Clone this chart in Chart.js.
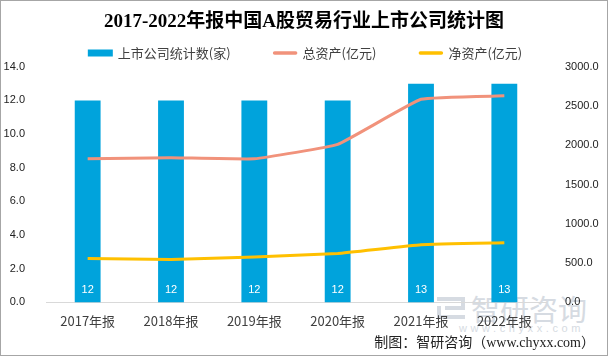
<!DOCTYPE html>
<html><head><meta charset="utf-8">
<script src="https://cdn.jsdelivr.net/npm/chart.js@4.4.1/dist/chart.umd.min.js"></script>
<style>
html,body{margin:0;padding:0;background:#fff;}
#wrap{position:relative;width:608px;height:356px;overflow:hidden;background:#fff;}
#frame{position:absolute;left:0;top:0;width:608px;height:356px;box-sizing:border-box;border:1px solid #a6a6a6;pointer-events:none;z-index:5;}
#c{position:absolute;left:0;top:0;z-index:2;}
.wm{position:absolute;z-index:1;color:#d6dbe2;font-family:'Noto Sans CJK SC';line-height:1;white-space:nowrap;}
#wm1{left:471px;top:294px;font-size:29px;}
#wm2{left:459px;top:323px;font-size:11px;letter-spacing:3.6px;font-family:'Liberation Sans';}
#logo{position:absolute;z-index:1;left:437px;top:297px;width:28px;height:22px;}
#logo div{position:absolute;background:#d6dbe2;}
#src{position:absolute;z-index:3;right:13px;top:334px;font-family:'Liberation Serif','Noto Sans CJK SC';font-size:14px;color:#222;line-height:18px;white-space:nowrap;}
</style>
</head><body>
<div id="wrap">
<div id="logo"><div style="left:0;top:0;width:28px;height:4px"></div><div style="left:24px;top:0;width:4px;height:12px"></div><div style="left:8px;top:9px;width:20px;height:4px"></div><div style="left:0;top:9px;width:4px;height:13px"></div><div style="left:0;top:18px;width:28px;height:4px"></div></div>
<div class="wm" id="wm1">智研咨询</div>
<div class="wm" id="wm2">www.chyxx.com</div>
<canvas id="c" width="608" height="356"></canvas>
<div id="src">制图：智研咨询（www.chyxx.com）</div>
<div id="frame"></div>
</div>
<script>
const categories = ['2017年报','2018年报','2019年报','2020年报','2021年报','2022年报'];
const companyCounts = [12,12,12,12,13,13];
const totalAssets = [1829,1842,1829,2012,2586,2630];
const netAssets = [560,547,577,624,735,760];
const seriesNames = ['上市公司统计数(家)','总资产(亿元)','净资产(亿元)'];
const titleText = '2017-2022年报中国A股贸易行业上市公司统计图';
const leftAxis = {min:0,max:14,step:2};
const rightAxis = {min:0,max:3000,step:500};

const barLabelPlugin = {
  id:'barLabels',
  afterDatasetsDraw(chart){
    const ctx = chart.ctx;
    const meta = chart.getDatasetMeta(0);
    const y0 = chart.scales.y.getPixelForValue(0);
    ctx.save();
    ctx.font = '11px "Liberation Sans"';
    ctx.fillStyle = '#ffffff';
    ctx.textAlign = 'center';
    ctx.textBaseline = 'middle';
    meta.data.forEach((bar,i)=>{
      ctx.fillText(String(chart.data.datasets[0].data[i]), bar.x, y0 - 12);
    });
    ctx.restore();
  }
};

const legendPlugin = {
  id:'customLegend',
  afterDraw(chart){
    const ctx = chart.ctx;
    ctx.save();
    ctx.font = '13px "Noto Sans CJK SC"';
    const box = 25, gap = 5, spacing = 42, cy = 53;
    const items = chart.data.datasets.map(ds=>({
      text: ds.label, bar: ds.type==='bar',
      color: ds.type==='bar' ? ds.backgroundColor : ds.borderColor,
      w: box + gap + ctx.measureText(ds.label).width
    }));
    const total = items.reduce((s,it)=>s+it.w,0) + spacing*(items.length-1);
    let x = chart.width/2 + 1 - total/2;
    ctx.textBaseline = 'middle';
    ctx.textAlign = 'left';
    items.forEach(it=>{
      if (it.bar){
        ctx.fillStyle = it.color;
        ctx.fillRect(x, cy-3.5, box, 7);
      } else {
        ctx.strokeStyle = it.color;
        ctx.lineWidth = 3.5;
        ctx.lineCap = 'round';
        ctx.beginPath();
        ctx.moveTo(x+2, cy); ctx.lineTo(x+box-2, cy);
        ctx.stroke();
      }
      ctx.fillStyle = '#404040';
      ctx.fillText(it.text, x + box + gap, cy);
      x += it.w + spacing;
    });
    ctx.restore();
  }
};

const tickFont = {family:'Liberation Sans', size:11};

new Chart(document.getElementById('c'), {
  data:{
    labels: categories,
    datasets:[
      {type:'bar', label:seriesNames[0], data:companyCounts, backgroundColor:'#00A3DC', yAxisID:'y', order:2, barPercentage:0.31, categoryPercentage:1},
      {type:'line', label:seriesNames[1], data:totalAssets, borderColor:'#F1927B', backgroundColor:'#F1927B', borderWidth:3, pointRadius:0, tension:0.1, yAxisID:'y1', order:1},
      {type:'line', label:seriesNames[2], data:netAssets, borderColor:'#FFC000', backgroundColor:'#FFC000', borderWidth:3, pointRadius:0, tension:0.1, yAxisID:'y1', order:0}
    ]
  },
  options:{
    responsive:false, animation:false,
    layout:{padding:{left:0,right:0,top:0,bottom:24}},
    plugins:{
      legend:{display:false},
      tooltip:{enabled:false},
      title:{display:true, text:titleText, color:'#000', font:{family:'Liberation Serif, "Noto Sans CJK SC"', size:19, weight:'bold'}, padding:{top:11,bottom:33}}
    },
    scales:{
      x:{
        grid:{display:false},
        border:{display:true,color:'#d9d9d9',width:1},
        ticks:{color:'#404040', font:{family:'Noto Sans CJK SC', size:13}, padding:3, maxRotation:0}
      },
      y:{
        position:'left', min:leftAxis.min, max:leftAxis.max,
        grid:{display:false}, border:{display:false},
        ticks:{stepSize:leftAxis.step, color:'#222', font:tickFont, padding:13, callback:v=>Number(v).toFixed(1)},
        afterFit(s){ s.width = 46; }
      },
      y1:{
        position:'right', min:rightAxis.min, max:rightAxis.max,
        grid:{display:false}, border:{display:false},
        ticks:{stepSize:rightAxis.step, color:'#222', font:tickFont, padding:11, callback:v=>Number(v).toFixed(1)},
        afterFit(s){ s.width = 62; }
      }
    }
  },
  plugins:[barLabelPlugin, legendPlugin]
});
</script>
</body></html>
